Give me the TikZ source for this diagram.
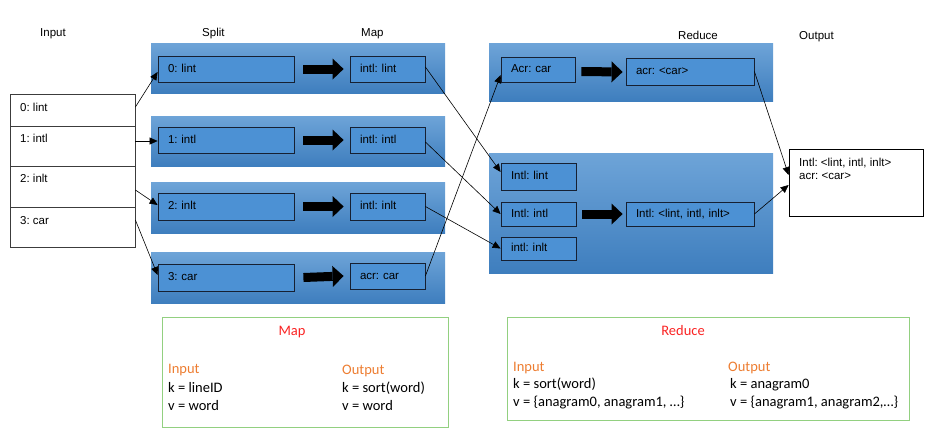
\documentclass[tikz,border=0pt]{standalone}
\usepackage{fontspec}
\setmainfont{Liberation Sans}
\newfontfamily\calfont{Carlito}
\usetikzlibrary{arrows.meta,calc}
\definecolor{bandtop}{RGB}{110,164,216}
\definecolor{bandbot}{RGB}{62,126,190}
\definecolor{inblue}{RGB}{76,145,212}
\definecolor{bordr}{RGB}{22,32,50}
\definecolor{grn}{RGB}{146,208,128}
\definecolor{redt}{RGB}{250,35,35}
\definecolor{orng}{RGB}{237,125,49}
\definecolor{inbox}{RGB}{60,60,60}
\frenchspacing
\begin{document}
\begin{tikzpicture}[x=1pt,y=-1pt,
  every node/.style={font=\fontsize{11.5}{13}\selectfont},
  band/.style={inner sep=0pt, top color=bandtop, bottom color=bandbot, draw=none},
  ibox/.style={draw=bordr, fill=inblue, line width=0.8pt, inner xsep=10pt, inner ysep=0pt,
    align=left, text height=7.5pt, text depth=1.5pt},
  row/.style={draw=inbox, line width=0.8pt, inner sep=0pt, minimum width=125pt, fill=white},
  txt/.style={anchor=base west, inner sep=0pt},
  ctxt/.style={anchor=base, inner sep=0pt},
  gtxt/.style={anchor=base west, inner sep=0pt, font=\calfont\fontsize{14.5}{17}\selectfont},
  gbox/.style={draw=grn, line width=0.9pt, inner sep=0pt},
  conn/.style={line width=0.6pt, black, -{Triangle[length=8pt,width=7pt]}},
  blk/.style={line width=9pt, black, -{Triangle[length=11pt,width=21pt,line width=0pt]}}
]
\useasboundingbox (0,0) rectangle (933,429);

% headers
\node[txt] (hin) at (40,36) {Input};
\node[txt] (hsp) at (202,36) {Split};
\node[txt] (hmp) at (361,36) {Map};
\node[txt] (hrd) at (678,39) {Reduce};
\node[txt] (hout) at (799,39) {Output};

% input rows
\node[row, minimum height=32pt] (i0) at (72.5,110) {};
\node[row, minimum height=40pt] (i1) at (72.5,146) {};
\node[row, minimum height=41pt] (i2) at (72.5,186.5) {};
\node[row, minimum height=40pt] (i3) at (72.5,227) {};
\node[txt] (t0) at (20,111) {0: lint};
\node[txt] (t1) at (20,142) {1: intl};
\node[txt] (t2) at (20,182) {2: inlt};
\node[txt] (t3) at (20,224) {3: car};

% map bands
\node[band, minimum width=294pt, minimum height=50pt] (b0) at (298,68) {};
\node[band, minimum width=294pt, minimum height=50pt] (b1) at (298,141) {};
\node[band, minimum width=294pt, minimum height=51pt] (b2) at (298,207.5) {};
\node[band, minimum width=294pt, minimum height=51pt] (b3) at (298,277.5) {};
% reduce bands
\node[band, minimum width=284pt, minimum height=58pt] (c0) at (631,72) {};
\node[band, minimum width=284pt, minimum height=120pt] (c1) at (631,213) {};

% split boxes
\node[ibox, text width=116pt, minimum height=26pt] (s0) at (226,69) {0: lint};
\node[ibox, text width=116pt, minimum height=26pt] (s1) at (226,140) {1: intl};
\node[ibox, text width=116pt, minimum height=27pt] (s2) at (226,206.5) {2: inlt};
\node[ibox, text width=116pt, minimum height=27pt] (s3) at (226,277.5) {3: car};
% map boxes
\node[ibox, text width=55pt, minimum height=26pt] (m0) at (387.5,69) {intl: lint};
\node[ibox, text width=55pt, minimum height=26pt] (m1) at (387.5,140) {intl: intl};
\node[ibox, text width=55pt, minimum height=27pt] (m2) at (387.5,206.5) {intl: inlt};
\node[ibox, text width=55pt, minimum height=26pt] (m3) at (387.5,276) {acr: car};
% reduce boxes
\node[ibox, text width=54pt, minimum height=25pt] (a0) at (538,69.5) {Acr: car};
\node[ibox, text width=108pt, minimum height=27pt] (r0) at (690,71.5) {acr: <car>};
\node[ibox, text width=55pt, minimum height=27pt] (g0) at (538.5,176.5) {Intl: lint};
\node[ibox, text width=55pt, minimum height=24pt] (g1) at (538.5,214) {Intl: intl};
\node[ibox, text width=55pt, minimum height=23pt] (g2) at (538.5,248.5) {intl: inlt};
\node[ibox, text width=108pt, minimum height=24pt] (r1) at (690,214) {Intl: <lint, intl, inlt>};

% output
\node[draw=black, line width=0.8pt, fill=white, minimum width=134pt, minimum height=67pt, inner sep=0pt] (out) at (856,182.5) {};
\node[txt] (o1) at (799,166) {Intl: <lint, intl, inlt>};
\node[txt] (o2) at (799,179) {acr: <car>};

% block arrows
\draw[blk] ($(s0.east)+(9,0)$) -- ($(m0.west)+(-6,0)$);
\draw[blk] ($(s1.east)+(9,0)$) -- ($(m1.west)+(-6,0)$);
\draw[blk] ($(s2.east)+(9,0)$) -- ($(m2.west)+(-6,0)$);
\draw[blk] ($(s3.east)+(9,0)$) -- ($(m3.west)+(-6,0)$);
\draw[blk] ($(a0.east)+(6,2)$) -- ($(r0.west)+(-3,0.5)$);
\draw[blk] ($(g1.east)+(6,0)$) -- ($(r1.west)+(-3,0)$);

% connectors
\draw[conn] ($(i0.east)+(0,-3)$) -- ($(s0.west)+(0,3)$);
\draw[conn] ($(i1.east)+(0,-5)$) -- ($(s1.west)+(0,1)$);
\draw[conn] ($(i2.east)+(0,3.5)$) -- ($(s2.west)+(0,-1.5)$);
\draw[conn] ($(i3.east)+(0,-7)$) -- ($(s3.west)+(0,-2.5)$);
\draw[conn] ($(m0.east)+(0,-2)$) -- ($(g0.west)+(0,-4.5)$);
\draw[conn] ($(m1.east)+(0,2)$) -- (g1.west);
\draw[conn] (m2.east) -- (g2.west);
\draw[conn] (m3.east) -- ($(a0.west)+(0,5.5)$);
\draw[conn] (r0.east) -- ($(out.west)+(0,-7.5)$);
\draw[conn] (r1.east) -- ($(out.west)+(0,2.5)$);

% green description boxes
\node[gbox, minimum width=286pt, minimum height=110pt] (gm) at (305,372) {};
\node[gbox, minimum width=402pt, minimum height=103pt] (gr) at (708,368.5) {};

\node[ctxt, font=\calfont\fontsize{14.5}{17}\selectfont, text=redt] (mt) at (292,335) {Map};
\node[gtxt, text=orng] (mi) at (168,373) {Input};
\node[gtxt] (mi1) at (168,392) {k = lineID};
\node[gtxt] (mi2) at (168,410) {v = word};
\node[gtxt, text=orng] (mo) at (342,374) {Output};
\node[gtxt] (mo1) at (342,392) {k = sort(word)};
\node[gtxt] (mo2) at (342,410) {v = word};

\node[ctxt, font=\calfont\fontsize{14.5}{17}\selectfont, text=redt] (rt) at (683,335) {Reduce};
\node[gtxt, text=orng] (ri) at (513,371) {Input};
\node[gtxt] (ri1) at (513,388) {k = sort(word)};
\node[gtxt] (ri2) at (513,406) {v = \{anagram0, anagram1, …\}};
\node[gtxt, text=orng] (ro) at (728,371) {Output};
\node[gtxt] (ro1) at (730,388) {k = anagram0};
\node[gtxt] (ro2) at (730,406) {v = \{anagram1, anagram2,…\}};
\end{tikzpicture}
\end{document}
